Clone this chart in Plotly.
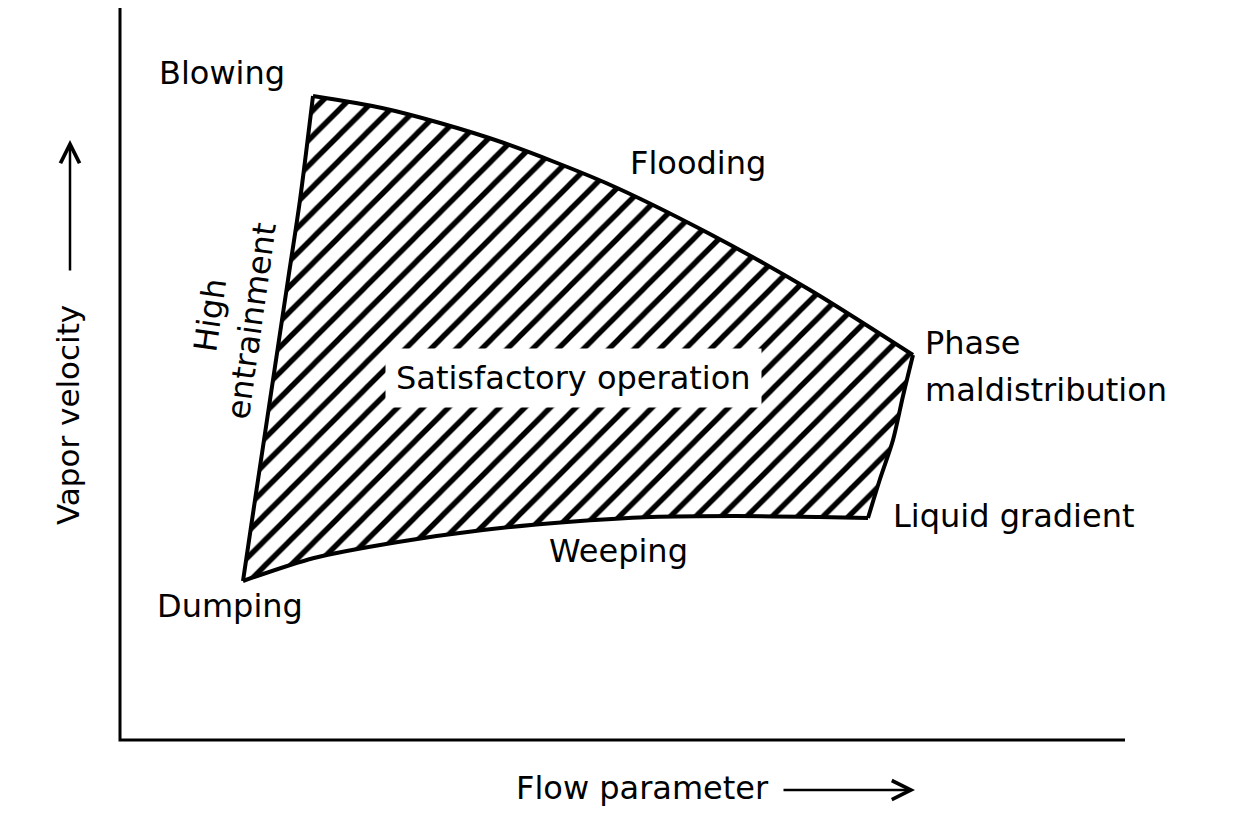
import plotly.graph_objects as go

# chart units: x = flow parameter (left->right), y = vapor velocity (bottom->top)
H = 816

# boundary of the satisfactory-operation region
flood_x = [313, 382, 440, 504, 606, 708, 810, 913]
flood_y = [720, 708, 693, 673, 633, 583, 526, 461]
right_x = [913, 903, 893, 880, 868]
right_y = [461, 420, 376, 337, 298]
weep_x = [868, 819, 735, 651, 567, 483, 398, 314, 243]
weep_y = [298, 299, 300, 299, 294, 286, 274, 258, 235]
left_x = [243, 255, 270, 288, 300, 313]
left_y = [235, 316, 416, 536, 616, 720]

region_x = flood_x + right_x[1:] + weep_x[1:] + left_x[1:]
region_y = flood_y + right_y[1:] + weep_y[1:] + left_y[1:]

# axis frame
axis_x = [120, 120, 1125]
axis_y = [808, 76, 76]

FONT = "DejaVu Sans"
FS = 32

labels = [
    # text, x, y, anchor
    ("Blowing", 222, 743, "center"),
    ("Flooding", 698, 653, "center"),
    ("Phase", 923, 473, "left"),
    ("maldistribution", 923, 426, "left"),
    ("Liquid gradient", 891, 300, "left"),
    ("Weeping", 618, 265, "center"),
    ("Dumping", 230, 210, "center"),
    ("Flow parameter", 642, 28, "center"),
]

fig = go.Figure()

# hatched fill
fig.add_trace(go.Scatter(
    x=region_x, y=region_y, mode="lines", fill="toself",
    line=dict(color="black", width=0),
    fillcolor="white",
    fillpattern=dict(shape="/", size=18, solidity=0.3, fgcolor="black",
                     bgcolor="white", fgopacity=1),
    hoverinfo="skip", showlegend=False,
))

# boundary curves
for xs, ys in [(flood_x, flood_y), (right_x, right_y), (weep_x, weep_y), (left_x, left_y)]:
    fig.add_trace(go.Scatter(
        x=xs, y=ys, mode="lines",
        line=dict(color="black", width=4, shape="spline", smoothing=0.8),
        hoverinfo="skip", showlegend=False,
    ))

fig.add_trace(go.Scatter(
    x=axis_x, y=axis_y, mode="lines",
    line=dict(color="black", width=3),
    hoverinfo="skip", showlegend=False,
))

for txt, x, y, anchor in labels:
    fig.add_annotation(x=x, y=y, text=txt, showarrow=False, xanchor=anchor,
                       font=dict(family=FONT, size=FS, color="black"))

fig.add_annotation(x=573, y=H - 378, text="Satisfactory operation", showarrow=False,
                   bgcolor="white", borderpad=10,
                   font=dict(family=FONT, size=FS, color="black"))

fig.add_annotation(x=231, y=H - 318, text="High<br>entrainment", showarrow=False,
                   textangle=-82, font=dict(family=FONT, size=FS, color="black"))

fig.add_annotation(x=68, y=H - 415, text="Vapor velocity", showarrow=False,
                   textangle=-90, font=dict(family=FONT, size=31, color="black"))

# arrows beside the axis titles
fig.add_annotation(x=70, y=H - 140, ax=70, ay=H - 272, xref="x", yref="y",
                   axref="x", ayref="y", text="", showarrow=True,
                   arrowhead=5, arrowsize=1.5, arrowwidth=2.5, arrowcolor="black")
fig.add_annotation(x=915, y=26, ax=782, ay=26, xref="x", yref="y",
                   axref="x", ayref="y", text="", showarrow=True,
                   arrowhead=5, arrowsize=1.5, arrowwidth=2.5, arrowcolor="black")

# page body has an 8px margin, so the figure is shifted to line up with the window
fig.update_xaxes(range=[8, 1240], visible=False, fixedrange=True)
fig.update_yaxes(range=[8, 808], visible=False, fixedrange=True)
fig.update_layout(
    width=1232, height=800,
    margin=dict(l=0, r=0, t=0, b=0),
    paper_bgcolor="white", plot_bgcolor="white",
    showlegend=False,
)

fig.write_html("out.html")
